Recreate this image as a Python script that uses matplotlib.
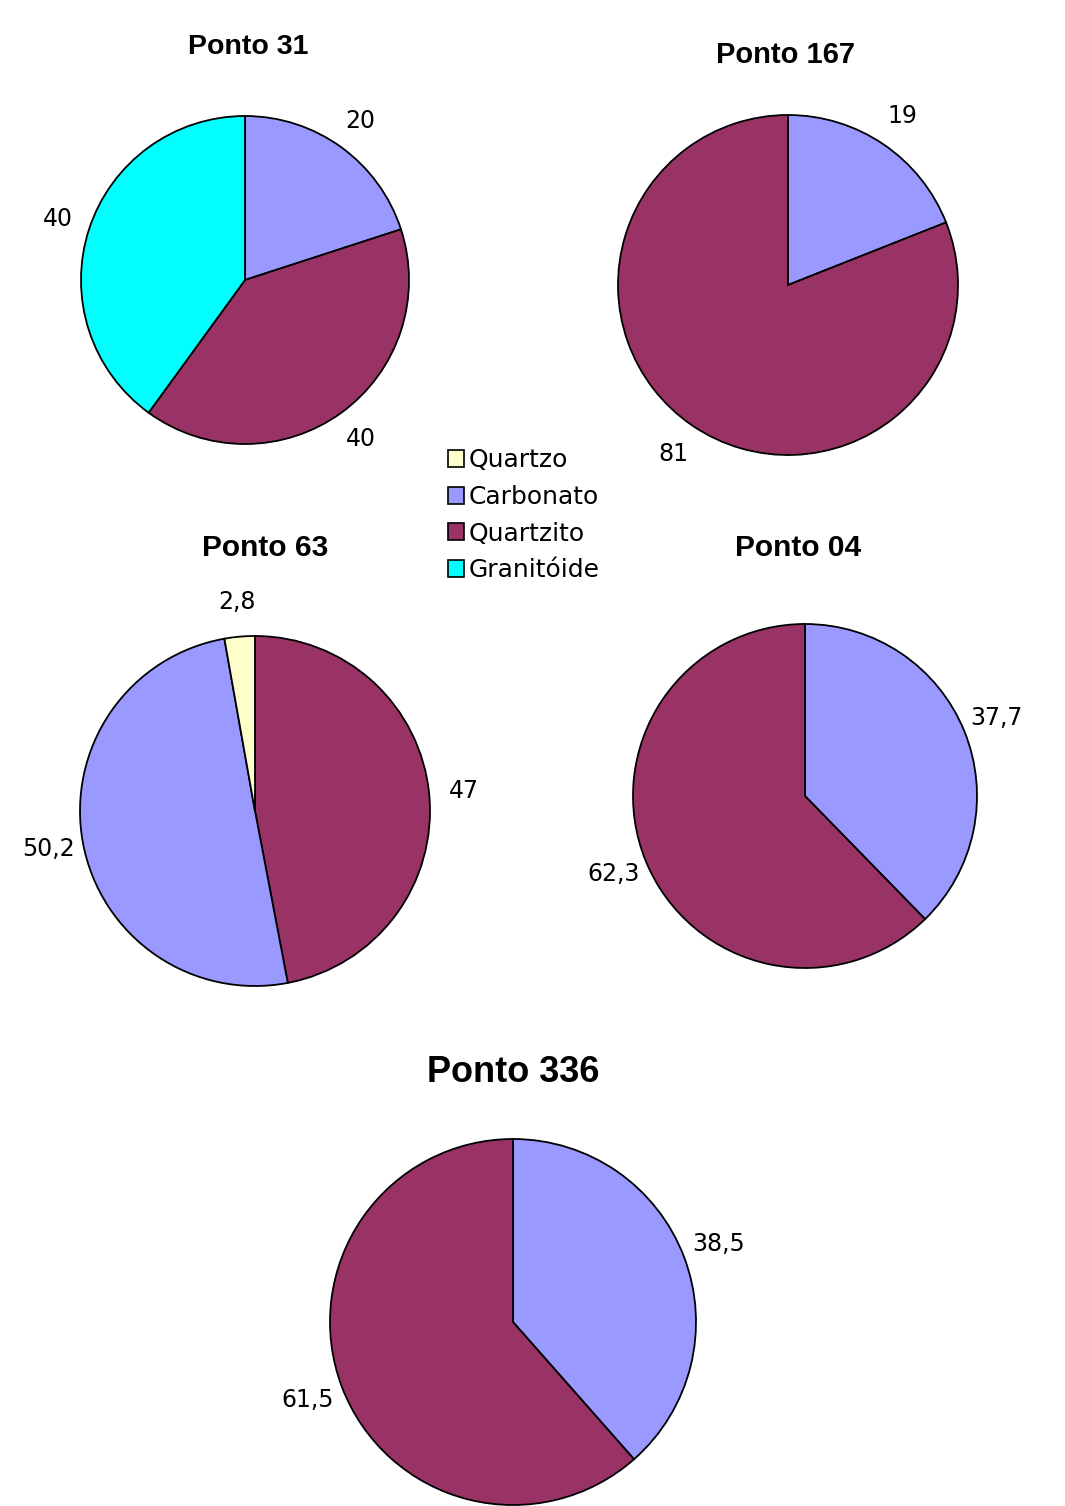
import matplotlib
matplotlib.use('Agg')
import matplotlib.pyplot as plt
from matplotlib.patches import Patch

# cores das classes (legenda)
categorias = ['Quartzo', 'Carbonato', 'Quartzito', 'Granitóide']
cores = {'Quartzo': '#FFFFCC', 'Carbonato': '#9999FF',
         'Quartzito': '#993366', 'Granitóide': '#00FFFF'}

# dados de cada ponto (ordem horária a partir do topo)
p31_cat = ['Carbonato', 'Quartzito', 'Granitóide']
p31_val = [20, 40, 40]
p167_cat = ['Carbonato', 'Quartzito']
p167_val = [19, 81]
p63_cat = ['Quartzito', 'Carbonato', 'Quartzo']
p63_val = [47, 50.2, 2.8]
p04_cat = ['Carbonato', 'Quartzito']
p04_val = [37.7, 62.3]
p336_cat = ['Carbonato', 'Quartzito']
p336_val = [38.5, 61.5]

W, H = 1065, 1506
fig = plt.figure(figsize=(W / 100, H / 100), dpi=100)
fig.patch.set_facecolor('white')

LABEL_FONT = dict(family='DejaVu Sans', fontsize=17)


def draw_pie(title, cats, vals, cx, cy, r, tx, ty, tsize):
    ax = fig.add_axes([(cx - r) / W, 1 - (cy + r) / H, 2 * r / W, 2 * r / H])
    labels = [f'{v:g}'.replace('.', ',') for v in vals]
    wedges, texts = ax.pie(vals, colors=[cores[c] for c in cats], labels=labels,
                           startangle=90, counterclock=False, labeldistance=1.2,
                           wedgeprops=dict(edgecolor='black', linewidth=1.3),
                           textprops=LABEL_FONT)
    for t in texts:
        t.set_ha('center')
        t.set_va('center')
        t.set_clip_on(False)
    ax.set_xlim(-1, 1)
    ax.set_ylim(-1, 1)
    ax.set_aspect('equal')
    ax.axis('off')
    fig.text(tx / W, 1 - ty / H, title, ha='center', va='center',
             fontsize=tsize, fontweight='bold', family='Liberation Sans')


draw_pie('Ponto 31', p31_cat, p31_val, 245, 280, 164, 248, 47, 20.5)
draw_pie('Ponto 167', p167_cat, p167_val, 788, 285, 170, 785, 55, 21)
draw_pie('Ponto 63', p63_cat, p63_val, 255, 811, 175, 265, 548, 21.5)
draw_pie('Ponto 04', p04_cat, p04_val, 805, 796, 172, 798, 548, 21.5)
draw_pie('Ponto 336', p336_cat, p336_val, 513, 1322, 183, 513, 1073, 26)

handles = [Patch(facecolor=cores[c], edgecolor='black', linewidth=1.2, label=c)
           for c in categorias]
fig.legend(handles=handles, loc='upper left', bbox_to_anchor=(430 / W, 1 - 431 / H),
           frameon=False, prop=dict(family='DejaVu Sans', size=18),
           handlelength=0.65, handleheight=0.65, handletextpad=0.2,
           labelspacing=0.5, borderpad=0.2)

plt.savefig('out.png', dpi=100, facecolor='white')
plt.close()
